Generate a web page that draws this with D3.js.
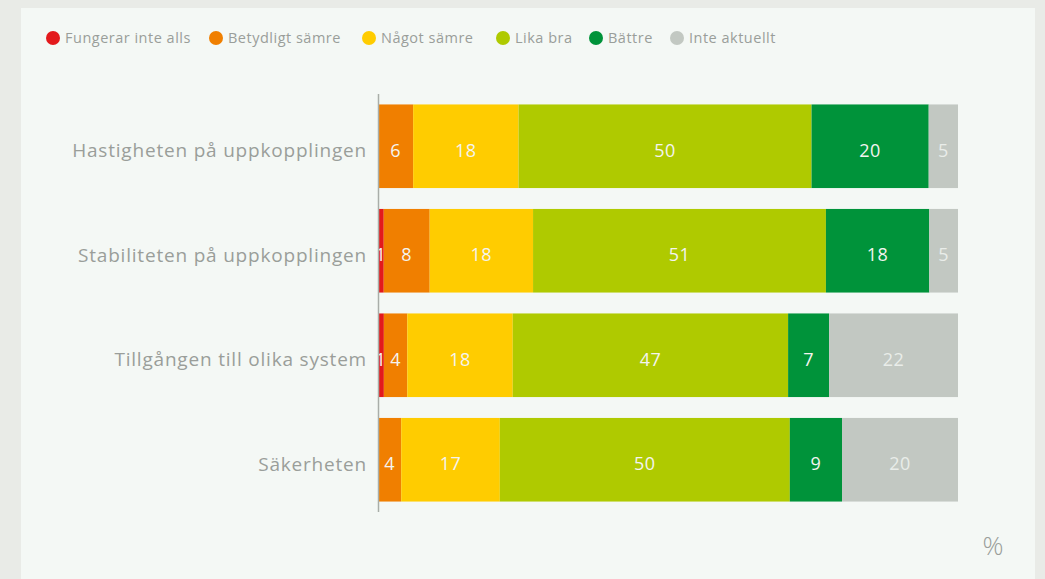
<!DOCTYPE html>
<html lang="sv">
<head>
<meta charset="utf-8">
<title>Uppkoppling</title>
<script src="https://cdn.jsdelivr.net/npm/d3@7"></script>
<style>
  html, body { margin: 0; padding: 0; background: #e9ebe7; }
  svg { display: block; font-family: "Open Sans", sans-serif; }
</style>
</head>
<body>
<script>

// categories (top to bottom)
var categories = [
  "Hastigheten på uppkopplingen",
  "Stabiliteten på uppkopplingen",
  "Tillgången till olika system",
  "Säkerheten"
];

// series, in stack order
var seriesNames = ["Fungerar inte alls", "Betydligt sämre", "Något sämre", "Lika bra", "Bättre", "Inte aktuellt"];
var seriesColors = ["#e3191c", "#f07f00", "#ffcc00", "#afca00", "#00933a", "#c2c8c2"];

// percent values per series, one per category
var fungerarInteAlls = [0, 1, 1, 0];
var betydligtSamre   = [6, 8, 4, 4];
var nagotSamre       = [18, 18, 18, 17];
var likaBra          = [50, 51, 47, 50];
var battre           = [20, 18, 7, 9];
var inteAktuellt     = [5, 5, 22, 20];

var seriesValues = [fungerarInteAlls, betydligtSamre, nagotSamre, likaBra, battre, inteAktuellt];

var W = 1045, H = 579;

var svg = d3.select("body").append("svg")
    .attr("width", W)
    .attr("height", H);

// light panel
svg.append("rect")
    .attr("x", 21).attr("y", 8)
    .attr("width", 1014).attr("height", H - 8)
    .attr("fill", "#f4f8f5");

// table of rows for the stack
var rows = categories.map(function(c, i) {
  var r = { cat: c };
  seriesNames.forEach(function(s, j) { r[s] = seriesValues[j][i]; });
  return r;
});

var stack = d3.stack()
    .keys(seriesNames)
    .offset(d3.stackOffsetExpand);
var layers = stack(rows);

var x = d3.scaleLinear().domain([0, 1]).range([378, 958]);
var y = d3.scaleBand().domain(categories).range([94, 512]).paddingInner(0.2).paddingOuter(0.1);

var layerG = svg.selectAll("g.layer")
    .data(layers)
    .enter()
    .append("g")
    .attr("class", "layer")
    .attr("fill", function(d, i) { return seriesColors[i]; });

layerG.selectAll("rect")
    .data(function(d) { return d; })
    .enter()
    .append("rect")
    .attr("x", function(d) { return x(d[0]); })
    .attr("y", function(d) { return y(d.data.cat); })
    .attr("width", function(d) { return x(d[1]) - x(d[0]); })
    .attr("height", y.bandwidth());

// value labels
layerG.selectAll("text")
    .data(function(d, i) {
      return d.map(function(p) { return { p: p, key: d.key, idx: i }; });
    })
    .enter()
    .filter(function(d) { return d.p.data[d.key] > 0; })
    .append("text")
    .attr("x", function(d) { return (x(d.p[0]) + x(d.p[1])) / 2; })
    .attr("y", function(d) { return y(d.p.data.cat) + y.bandwidth() / 2 + 4; })
    .attr("dy", "0.36em")
    .attr("text-anchor", "middle")
    .attr("font-size", 18)
    .attr("letter-spacing", 0.5)
    .attr("fill", function(d) { return d.idx === 5 ? "#e9ede9" : "#f4f4f0"; })
    .text(function(d) { return d.p.data[d.key]; });

// y axis line + category labels
svg.append("line")
    .attr("x1", 378.5).attr("x2", 378.5)
    .attr("y1", 94).attr("y2", 512)
    .attr("stroke", "#a9aea9")
    .attr("stroke-width", 1.5);

svg.selectAll("text.cat")
    .data(categories)
    .enter()
    .append("text")
    .attr("class", "cat")
    .attr("x", 367)
    .attr("y", function(d) { return y(d) + y.bandwidth() / 2 + 4; })
    .attr("dy", "0.36em")
    .attr("text-anchor", "end")
    .attr("font-size", 19)
    .attr("letter-spacing", 0.8)
    .attr("fill", "#9a9e9a")
    .text(function(d) { return d; });

// legend
var legendX = [53, 216, 369, 503, 596, 677];
var legend = svg.selectAll("g.legend")
    .data(seriesNames)
    .enter()
    .append("g")
    .attr("class", "legend")
    .attr("transform", function(d, i) { return "translate(" + legendX[i] + ",38)"; });

legend.append("circle")
    .attr("r", 7)
    .attr("fill", function(d, i) { return seriesColors[i]; });

legend.append("text")
    .attr("x", 12)
    .attr("dy", "0.35em")
    .attr("font-size", 14.5)
    .attr("letter-spacing", 0.5)
    .attr("fill", "#9a9e9a")
    .text(function(d) { return d; });

// unit
svg.append("text")
    .attr("x", 993).attr("y", 555)
    .attr("text-anchor", "middle")
    .attr("font-size", 26)
    .attr("font-weight", 300)
    .attr("fill", "#9a9e9a")
    .text("%");

</script>
</body>
</html>
